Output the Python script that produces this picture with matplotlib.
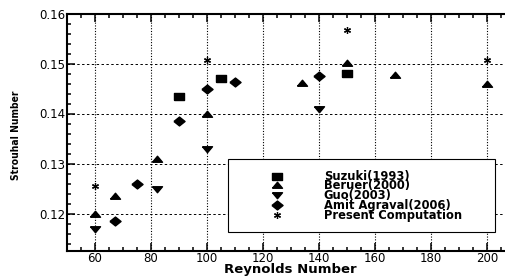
import matplotlib
matplotlib.use('Agg')
import matplotlib.pyplot as plt
from matplotlib.ticker import MultipleLocator

plt.rcParams['font.family'] = ['DejaVu Sans']

# ── data ──
suzuki_re = [90, 105, 150]
suzuki_st = [0.1435, 0.1472, 0.1482]

beruer_re = [60, 67, 82, 100, 134, 150, 167, 200]
beruer_st = [0.1200, 0.1235, 0.1310, 0.1400, 0.1462, 0.1502, 0.1478, 0.1460]

guo_re = [60, 82, 100, 140]
guo_st = [0.1170, 0.1250, 0.1330, 0.1410]

amit_re = [67, 75, 90, 100, 110, 140]
amit_st = [0.1185, 0.1260, 0.1385, 0.1450, 0.1463, 0.1475]

present_re = [60, 100, 150, 200]
present_st = [0.1255, 0.1508, 0.1568, 0.1508]

# flattened marker shapes
sq = [(-1, -0.7), (1, -0.7), (1, 0.7), (-1, 0.7), (-1, -0.7)]
tri_up = [(-1, -0.55), (1, -0.55), (0, 0.65), (-1, -0.55)]
tri_dn = [(-1, 0.55), (1, 0.55), (0, -0.65), (-1, 0.55)]
dia = [(-1, 0), (0, 0.8), (1, 0), (0, -0.8), (-1, 0)]

fig = plt.figure(figsize=(5.05, 2.78), dpi=100, facecolor='white')
ax = fig.add_axes([67 / 505, 1 - 251 / 278, 1 - 67 / 505, (251 - 13.5) / 278])

ax.plot(suzuki_re, suzuki_st, ls='none', marker=sq, ms=7.2, color='black', label='Suzuki(1993)')
ax.plot(beruer_re, beruer_st, ls='none', marker=tri_up, ms=7.2, color='black', label='Beruer(2000)')
ax.plot(guo_re, guo_st, ls='none', marker=tri_dn, ms=7.2, color='black', label='Guo(2003)')
ax.plot(amit_re, amit_st, ls='none', marker=dia, ms=8, color='black', label='Amit Agraval(2006)')
ax.plot(present_re, present_st, ls='none', marker=(6, 2, 0), ms=5, mew=0.9, color='black',
        label='Present Computation')

ax.set_xlim(50, 50 + 438 / 2.8)
ax.set_ylim(0.1125, 0.16)
ax.xaxis.set_major_locator(MultipleLocator(20))
ax.xaxis.set_minor_locator(MultipleLocator(5))
ax.yaxis.set_major_locator(MultipleLocator(0.01))
ax.yaxis.set_minor_locator(MultipleLocator(0.002))
ax.set_yticks([0.12, 0.13, 0.14, 0.15, 0.16])
ax.set_yticklabels(['0.12', '0.13', '0.14', '0.15', '0.16'])

ax.xaxis.grid(True, which='major', ls=(0, (1, 1.5)), lw=0.8, color='black')
ax.yaxis.grid(True, which='major', ls=(0, (2.5, 2.5)), lw=0.7, color='black')
ax.set_axisbelow(True)

ax.spines['right'].set_visible(False)
for s in ['left', 'bottom', 'top']:
    ax.spines[s].set_linewidth(1.5)
ax.tick_params(which='both', direction='in', top=True, right=False, labelsize=8.5, width=1.1)
ax.tick_params(which='major', length=5.5, pad=1)
ax.tick_params(which='minor', length=3)

ax.set_xlabel('Reynolds Number', fontsize=9.5, fontweight='bold', labelpad=0)
ax.xaxis.set_label_coords((290 - 67) / 438, -0.05)
ax.set_ylabel('Strouhal Number', fontsize=7.4, fontweight='bold', fontstretch='condensed')
ax.yaxis.set_label_coords((21 - 67) / 438, 0.489)

leg = ax.legend(loc='upper left',
                bbox_to_anchor=(227.7 / 505, 1 - 159.3 / 278, (495 - 227.7) / 505, 0),
                bbox_transform=fig.transFigure, mode='expand', borderaxespad=0,
                fancybox=False, framealpha=1, edgecolor='black',
                prop={'weight': 'bold', 'size': 8.3},
                labelspacing=-0.28, handlelength=6.7, handletextpad=0.74, borderpad=0.9)
leg.get_frame().set_linewidth(0.8)

fig.savefig('out.png', dpi=100, facecolor='white')
